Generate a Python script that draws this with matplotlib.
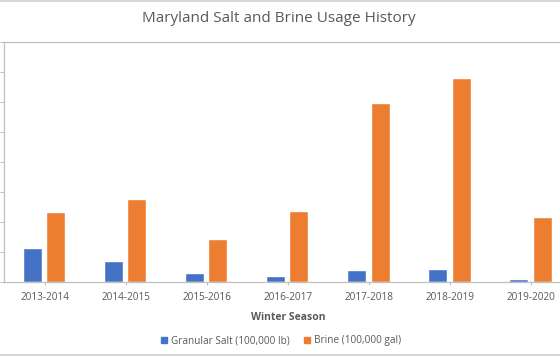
import matplotlib
matplotlib.use('Agg')
import matplotlib.pyplot as plt
from matplotlib.lines import Line2D
import numpy as np

seasons = ['2013-2014', '2014-2015', '2015-2016', '2016-2017',
           '2017-2018', '2018-2019', '2019-2020']
salt = [11.0, 6.7, 2.7, 1.8, 3.7, 4.2, 0.8]       # Granular Salt (100,000 lb)
brine = [22.9, 27.2, 13.9, 23.3, 59.4, 67.4, 21.3]  # Brine (100,000 gal)

blue = '#4472C4'
orange = '#ED7D31'
txt = '#595959'
axcol = '#BFBFBF'

plt.rcParams['font.family'] = ['Open Sans', 'DejaVu Sans']

fig = plt.figure(figsize=(5.6, 3.56), dpi=100)
W, H = 560, 356
# plot area is wider than the picture (chart is cropped at both sides)
ax = fig.add_axes([4.3 / W, (H - 282.3) / H, 567.2 / W, (282.3 - 41.5) / H])

x = np.arange(len(seasons))
w = 0.222
ax.bar(x - 0.143, salt, w, color=blue, edgecolor='white', linewidth=0.3,
       label='Granular Salt (100,000 lb)')
ax.bar(x + 0.143, brine, w, color=orange, edgecolor='white', linewidth=0.3,
       label='Brine (100,000 gal)')

ax.set_xlim(-0.5, len(seasons) - 0.5)
ax.set_ylim(0, 80)
ax.set_yticks(np.arange(0, 81, 10))
ax.set_yticklabels([])
ax.set_xticks(x)
ax.set_xticklabels(seasons)
ax.tick_params(axis='x', colors=axcol, labelcolor=txt, labelsize=7.2,
               length=2.5, width=0.8, pad=4.5)
ax.tick_params(axis='y', colors=axcol, length=3, width=0.8)
for s in ['left', 'bottom', 'top']:
    ax.spines[s].set_color(axcol)
    ax.spines[s].set_linewidth(0.9)
ax.spines['right'].set_visible(False)

ax.set_xlabel('Winter Season', fontsize=7.5, fontweight='bold', color=txt, labelpad=6.5)

fig.text(279 / W, 1 - 18.5 / H, 'Maryland Salt and Brine Usage History',
         ha='center', va='center', fontsize=11, color=txt)

handles = [Line2D([], [], marker='s', linestyle='none', markersize=4.5, color=blue),
           Line2D([], [], marker='s', linestyle='none', markersize=4.5, color=orange)]
fig.legend(handles, ['Granular Salt (100,000 lb)', 'Brine (100,000 gal)'],
           loc='center', bbox_to_anchor=(281 / W, 1 - 341 / H), ncol=2,
           frameon=False, fontsize=7.2, labelcolor=txt, handlelength=0.6,
           handletextpad=0.4, columnspacing=1.5)

# chart frame lines visible in the crop
fig.add_artist(Line2D([0, 1], [1 - 0.5 / H, 1 - 0.5 / H], color='#D0D0D0', lw=1.2))
fig.add_artist(Line2D([0, 1], [1 - 355 / H, 1 - 355 / H], color='#D0D0D0', lw=1.2))

fig.savefig('out.png', dpi=100)
